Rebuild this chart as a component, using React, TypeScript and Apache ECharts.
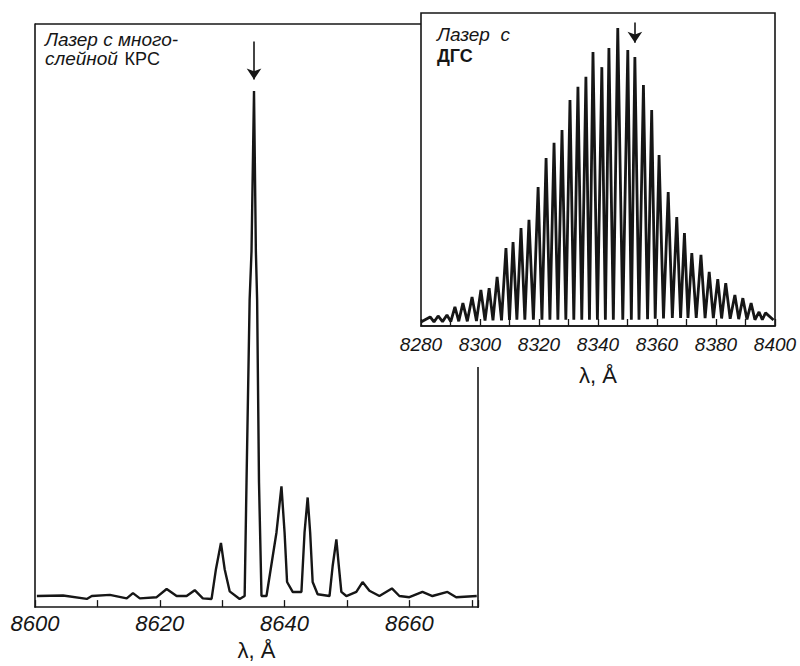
import React, { useEffect, useRef } from "react";
import * as echarts from "echarts";

// ---------- Left panel: laser with multilayer structure ----------
const leftLambda = [
  8600.3, 8604.5, 8608.3, 8609.1, 8612.0, 8614.7, 8615.7, 8616.8, 8619.5, 8621.1,
  8622.7, 8624.3, 8625.6, 8626.9, 8628.3, 8629.0, 8629.8, 8630.4, 8631.2, 8632.8,
  8633.6, 8633.9, 8634.4, 8634.7, 8635.1, 8635.4, 8635.6, 8635.9, 8636.3, 8637.1,
  8638.7, 8639.5, 8640.0, 8640.4, 8641.3, 8642.7, 8643.2, 8643.7, 8644.1, 8644.5,
  8645.3, 8647.2, 8647.7, 8648.3, 8648.7, 8649.1, 8649.9, 8651.5, 8652.5, 8653.6,
  8655.2, 8657.2, 8658.4, 8660.0, 8662.1, 8663.7, 8666.1, 8667.5, 8670.8,
];
const leftIntensity = [
  1.9, 2.0, 1.4, 1.9, 2.1, 1.5, 2.4, 1.5, 1.7, 3.1,
  1.9, 1.9, 2.9, 1.5, 1.4, 6.5, 11.0, 6.5, 2.7, 1.4,
  1.9, 21.4, 52.7, 61.0, 88.5, 61.0, 52.7, 21.4, 1.9, 1.9,
  12.8, 20.7, 12.8, 4.3, 2.6, 2.6, 12.8, 18.8, 12.8, 4.3,
  2.2, 1.9, 7.0, 11.6, 7.0, 2.6, 1.9, 2.6, 4.3, 2.8,
  1.9, 3.2, 1.9, 1.7, 2.6, 1.9, 2.6, 1.7, 1.9,
];
const leftTickLabels = [8600, 8620, 8640, 8660];
const leftArrow = [8635.1, 97, 90.5]; // lambda, from, to

// ---------- Right panel: DH laser ----------
const rightPeakLambda = [
  8283.1, 8285.8, 8288.8, 8291.5, 8294.2, 8297.3, 8300.3, 8303.1, 8305.8, 8308.8,
  8311.2, 8313.9, 8316.6, 8319.7, 8322.4, 8325.1, 8327.8, 8330.5, 8333.2, 8335.9,
  8338.3, 8341.3, 8343.7, 8346.7, 8350.1, 8352.5, 8355.4, 8358.2, 8360.7, 8363.8,
  8366.7, 8369.3, 8371.8, 8374.9, 8377.7, 8380.6, 8383.3, 8386.4, 8389.1, 8391.9,
  8394.6, 8396.8,
];
const rightPeakHeight = [
  2.9, 3.2, 3.5, 6.1, 7.3, 9.3, 11.5, 12.1, 15.7, 24.9,
  26.8, 31.3, 33.9, 44.4, 53.7, 58.5, 62.6, 72.2, 76.4, 79.6,
  87.5, 82.7, 88.8, 95.2, 88.2, 85.9, 77.0, 69.0, 54.6, 42.8,
  34.8, 29.7, 23.3, 22.7, 17.3, 15.0, 13.7, 9.9, 8.9, 7.3,
  4.5, 4.2,
];
const rightValleyLambda = [
  8280.0, 8284.4, 8287.3, 8290.1, 8292.8, 8295.7, 8298.8, 8301.7, 8304.4, 8307.3,
  8310.0, 8312.5, 8315.2, 8318.1, 8321.0, 8323.7, 8326.4, 8329.1, 8331.8, 8334.5,
  8337.1, 8339.8, 8342.5, 8345.2, 8348.4, 8351.3, 8353.9, 8356.8, 8359.4, 8362.2,
  8365.2, 8368.0, 8370.5, 8373.3, 8376.3, 8379.1, 8381.9, 8384.8, 8387.7, 8390.5,
  8393.2, 8395.7, 8399.5,
];
const rightValleyLevel = [
  1.3, 1.3, 1.4, 1.4, 1.5, 1.5, 1.6, 1.7, 1.8, 1.8,
  1.9, 2.0, 2.0, 2.0, 2.0, 2.0, 2.0, 2.0, 2.0, 2.0,
  2.0, 2.0, 2.0, 2.0, 2.0, 2.0, 2.0, 2.2, 2.3, 2.4,
  2.6, 2.6, 2.6, 2.6, 2.5, 2.5, 2.4, 2.3, 2.2, 2.1,
  2.0, 2.0, 1.9,
];
const rightTickLabels = [8280, 8300, 8320, 8340, 8360, 8380, 8400];
const rightArrow = [8352.5, 97, 90.5];

const INK = "#161616";
const DIGIT_FONT = "'Liberation Sans', sans-serif";
const TEXT_FONT = "'Liberation Sans', 'DejaVu Sans', sans-serif";

export default function App() {
  const ref = useRef<HTMLDivElement>(null);

  useEffect(() => {
    if (!ref.current) return;
    const chart = echarts.init(ref.current, undefined, { renderer: "svg" });

    const leftData = leftLambda.map((x, i) => [x, leftIntensity[i]]);
    const rightData: number[][] = [];
    rightValleyLambda.forEach((x, i) => {
      rightData.push([x, rightValleyLevel[i]]);
      if (i < rightPeakLambda.length) rightData.push([rightPeakLambda[i], rightPeakHeight[i]]);
    });

    const L = { left: 35, top: 24, width: 443, height: 584 };
    const R = { left: 421, top: 13, width: 354, height: 313 };

    const arrowLine = (a: number[]) => ({
      silent: true,
      symbol: ["none", "arrow"],
      symbolSize: 11,
      label: { show: false },
      lineStyle: { color: INK, width: 1.6, type: "solid" },
      data: [[{ coord: [a[0], a[1]] }, { coord: [a[0], a[2]] }]],
    });

    const xAxisBase = (labels: number[], fontSize: number, margin: number) => ({
      type: "value",
      interval: 10,
      axisLine: { show: true, onZero: false, lineStyle: { color: INK, width: 1.6 } },
      axisTick: { show: true, inside: true, length: 7, lineStyle: { color: INK, width: 1.3 } },
      axisLabel: {
        formatter: (v: number) => (labels.includes(Math.round(v * 1000) / 1000) ? String(v) : ""),
        fontSize,
        fontStyle: "italic",
        fontFamily: DIGIT_FONT,
        color: INK,
        margin,
        showMinLabel: true,
        showMaxLabel: true,
      },
      splitLine: { show: false },
      name: "λ, Å",
      nameLocation: "middle",
      nameTextStyle: { fontSize: 22, fontFamily: TEXT_FONT, color: INK },
    });

    chart.setOption({
      animation: false,
      backgroundColor: "#fff",
      grid: [
        { ...L, show: false },
        { ...R, show: true, borderColor: INK, borderWidth: 1.6, backgroundColor: "#fff" },
      ],
      xAxis: [
        { ...xAxisBase(leftTickLabels, 22, 5), gridIndex: 0, min: 8600, max: 8671, nameGap: 30 },
        { ...xAxisBase(rightTickLabels, 19, 9), gridIndex: 1, min: 8280, max: 8400, nameGap: 38 },
      ],
      yAxis: [
        {
          gridIndex: 0, type: "value", min: 0, max: 100,
          axisLine: { show: true, lineStyle: { color: INK, width: 1.6 } },
          axisTick: { show: false }, axisLabel: { show: false }, splitLine: { show: false },
        },
        {
          gridIndex: 1, type: "value", min: 0, max: 100,
          axisLine: { show: false }, axisTick: { show: false }, axisLabel: { show: false },
          splitLine: { show: false },
        },
      ],
      series: [
        {
          type: "line", xAxisIndex: 0, yAxisIndex: 0, data: leftData,
          symbol: "none", showSymbol: false,
          lineStyle: { color: INK, width: 2.4 },
          markLine: arrowLine(leftArrow),
        },
        {
          type: "line", xAxisIndex: 1, yAxisIndex: 1, data: rightData,
          symbol: "none", showSymbol: false,
          lineStyle: { color: INK, width: 2.8 },
          markLine: arrowLine(rightArrow),
        },
      ],
      graphic: [
        {
          type: "line",
          shape: { x1: L.left, y1: L.top, x2: R.left, y2: L.top },
          style: { stroke: INK, lineWidth: 1.6 },
        },
        {
          type: "line",
          shape: { x1: L.left + L.width, y1: 367, x2: L.left + L.width, y2: L.top + L.height },
          style: { stroke: INK, lineWidth: 1.6 },
        },
        {
          type: "text",
          x: 45,
          y: 30,
          style: {
            text: "{i|Лазер с много-}\n{i|слейной}  {n|КРС}",
            rich: {
              i: { fontSize: 19, fontStyle: "italic", fontFamily: TEXT_FONT, fill: INK, lineHeight: 19 },
              n: { fontSize: 18, fontFamily: TEXT_FONT, fill: INK, lineHeight: 19 },
            },
          },
        },
        {
          type: "text",
          x: 437,
          y: 23,
          style: {
            text: "{i|Лазер  с}\n{n|ДГС}",
            rich: {
              i: { fontSize: 19, fontStyle: "italic", fontFamily: TEXT_FONT, fill: INK, lineHeight: 22 },
              n: { fontSize: 18, fontWeight: "bold", fontFamily: TEXT_FONT, fill: INK, lineHeight: 22 },
            },
          },
        },
      ],
    });

    return () => chart.dispose();
  }, []);

  return <div ref={ref} style={{ width: 800, height: 666, position: "absolute", left: 0, top: 0 }} />;
}
